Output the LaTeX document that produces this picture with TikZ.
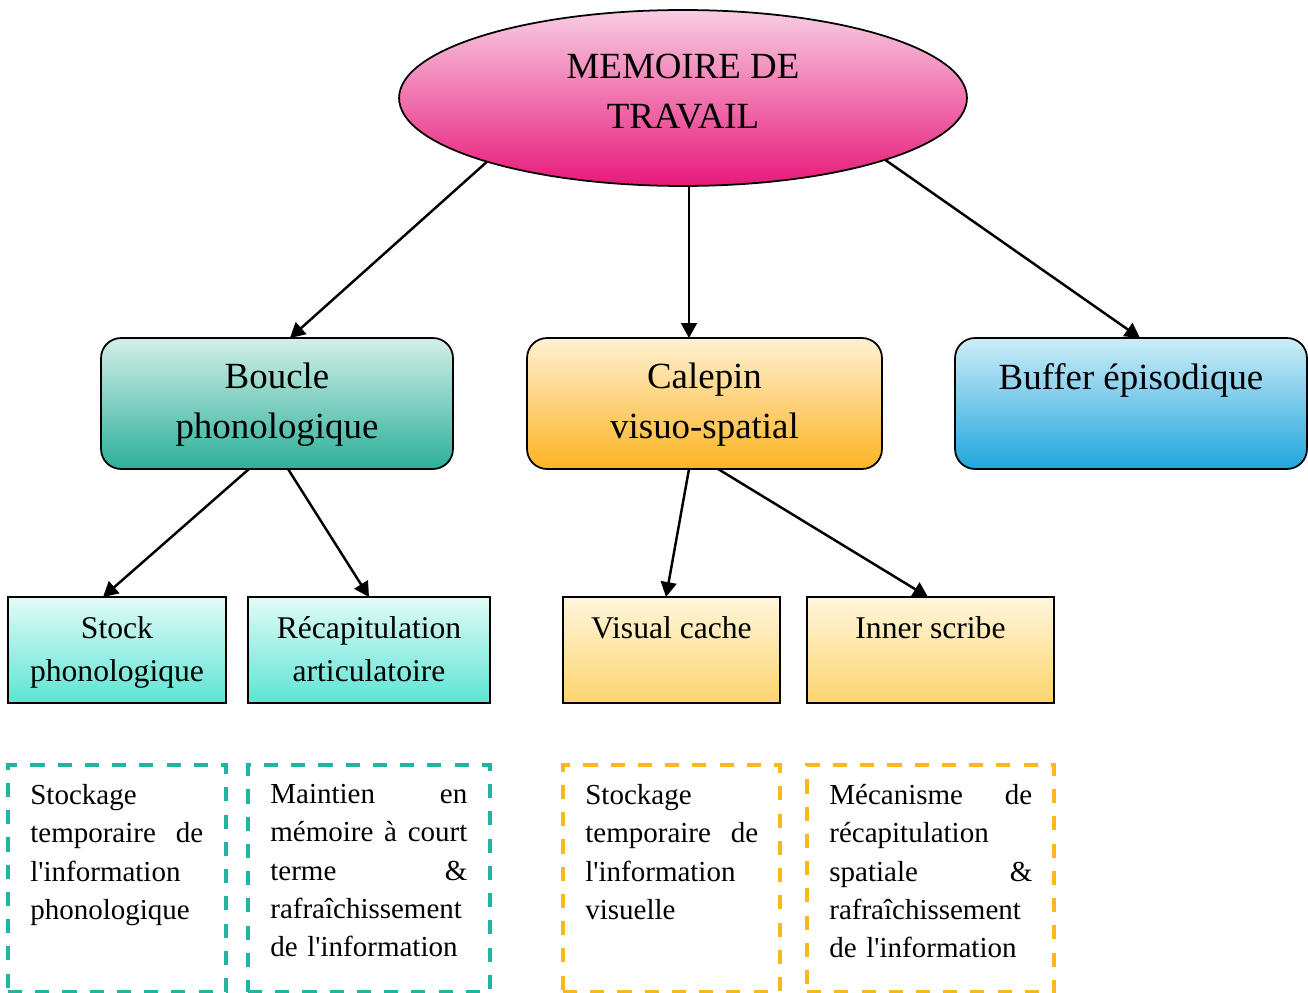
\documentclass[tikz,border=0pt]{standalone}
\usepackage{fontspec}
\setmainfont{Liberation Serif}[Ligatures=TeXOff]
\usetikzlibrary{arrows.meta,positioning,shapes.geometric}
\definecolor{pinkTop}{HTML}{F8CDE2}
\definecolor{pinkBot}{HTML}{E8197A}
\definecolor{tealTop}{HTML}{D3EFE8}
\definecolor{tealBot}{HTML}{2BB09A}
\definecolor{orTop}{HTML}{FFF0D2}
\definecolor{orBot}{HTML}{FCB423}
\definecolor{blTop}{HTML}{CDEDF8}
\definecolor{blBot}{HTML}{1FA6DC}
\definecolor{cyTop}{HTML}{E2FBF7}
\definecolor{cyBot}{HTML}{5DE4D4}
\definecolor{yeTop}{HTML}{FFF6DE}
\definecolor{yeBot}{HTML}{FDD46C}
\definecolor{dashTeal}{HTML}{1FB5A0}
\definecolor{dashOr}{HTML}{FBB81B}
\tikzset{
	bigbox/.style={draw=black,line width=1pt,rounded corners=0.4cm,minimum width=7.04cm,minimum height=2.62cm,inner sep=0pt,outer sep=0pt},
	subbox/.style={draw=black,line width=1pt,minimum height=2.12cm,inner sep=0pt,outer sep=0pt},
	notebox/.style={dashed,dash pattern=on 8pt off 7.5pt,line width=1.8pt,minimum height=4.54cm,inner sep=0pt,outer sep=0pt},
	bigtext/.style={font=\fontsize{21}{28}\selectfont,align=center,inner sep=0pt,anchor=north,yshift=-0.5cm},
	subtext/.style={font=\fontsize{18}{24.4}\selectfont,align=center,inner sep=0pt,anchor=north,yshift=-0.39cm},
	notetext/.style={font=\fontsize{16.5}{21.8}\selectfont,align=left,inner sep=0pt},
	link/.style={-{Triangle[length=8.5pt,width=9pt]},line width=1.4pt},
}
\begin{document}
\begin{tikzpicture}[x=0.02cm,y=-0.02cm]
	\useasboundingbox (0,0) rectangle (1308,993);
	\node (title) at (683,98) [ellipse,draw=black,line width=1pt,top color=pinkTop,bottom color=pinkBot,minimum width=11.36cm,minimum height=3.52cm,inner sep=0pt,outer sep=0pt,label={[bigtext,anchor=center,yshift=0.63cm]center:MEMOIRE DE\\TRAVAIL}] {};
	\node (boucle) at (277,403.5) [bigbox,top color=tealTop,bottom color=tealBot,label={[bigtext]north:Boucle\\phonologique}] {};
	\node (calepin) at (704.5,403.5) [bigbox,minimum width=7.1cm,top color=orTop,bottom color=orBot,label={[bigtext]north:Calepin\\visuo-spatial}] {};
	\node (buffer) at (1131,403.5) [bigbox,top color=blTop,bottom color=blBot,label={[bigtext]north:Buffer épisodique}] {};
	\node (stock) at (117,650) [subbox,minimum width=4.36cm,top color=cyTop,bottom color=cyBot,label={[subtext]north:Stock\\phonologique}] {};
	\node (recap) at (369,650) [subbox,minimum width=4.84cm,top color=cyTop,bottom color=cyBot,label={[subtext]north:Récapitulation\\articulatoire}] {};
	\node (visual) at (671.5,650) [subbox,minimum width=4.34cm,top color=yeTop,bottom color=yeBot,label={[subtext]north:Visual cache}] {};
	\node (inner) at (930.5,650) [subbox,minimum width=4.94cm,top color=yeTop,bottom color=yeBot,label={[subtext]north:Inner scribe}] {};
	\node (nstock) at (117,878.5) [notebox,draw=dashTeal,minimum width=4.36cm] {};
	\node (nrecap) at (369,878.5) [notebox,draw=dashTeal,minimum width=4.84cm] {};
	\node (nvisual) at (671.5,878.5) [notebox,draw=dashOr,minimum width=4.34cm] {};
	\node (ninner) at (930.5,878.5) [notebox,draw=dashOr,minimum width=4.94cm] {};
	\node (tstock) [notetext,text width=3.46cm,below right=0.38cm and 0.44cm of nstock.north west] {Stockage\\temporaire\hfill de\\l'information\\phonologique};
	\node (trecap) [notetext,text width=3.94cm,below right=0.38cm and 0.44cm of nrecap.north west] {Maintien\hfill en\\mémoire\hfill à\hfill court\\terme\hfill \&\\rafraîchissement\\de l'information};
	\node (tvisual) [notetext,text width=3.46cm,below right=0.38cm and 0.44cm of nvisual.north west] {Stockage\\temporaire\hfill de\\l'information\\visuelle};
	\node (tinner) [notetext,text width=4.06cm,below right=0.38cm and 0.44cm of ninner.north west] {Mécanisme\hfill de\\récapitulation\\spatiale\hfill \&\\rafraîchissement\\de l'information};
	\draw [link] (title.198.5) -- ([xshift=0.26cm]boucle.north);
	\draw [link] ([xshift=0.12cm]title.south) -- ([xshift=0.12cm]title.south |- calepin.north);
	\draw [link] (title.-17.5) -- ([xshift=0.18cm]buffer.north);
	\draw [link] ([xshift=-0.56cm]boucle.south) -- ([xshift=-0.28cm]stock.north);
	\draw [link] ([xshift=0.22cm]boucle.south) -- (recap.north);
	\draw [link] ([xshift=-0.31cm]calepin.south) -- ([xshift=-0.11cm]visual.north);
	\draw [link] ([xshift=0.27cm]calepin.south) -- ([xshift=-0.05cm]inner.north);
\end{tikzpicture}
\end{document}
